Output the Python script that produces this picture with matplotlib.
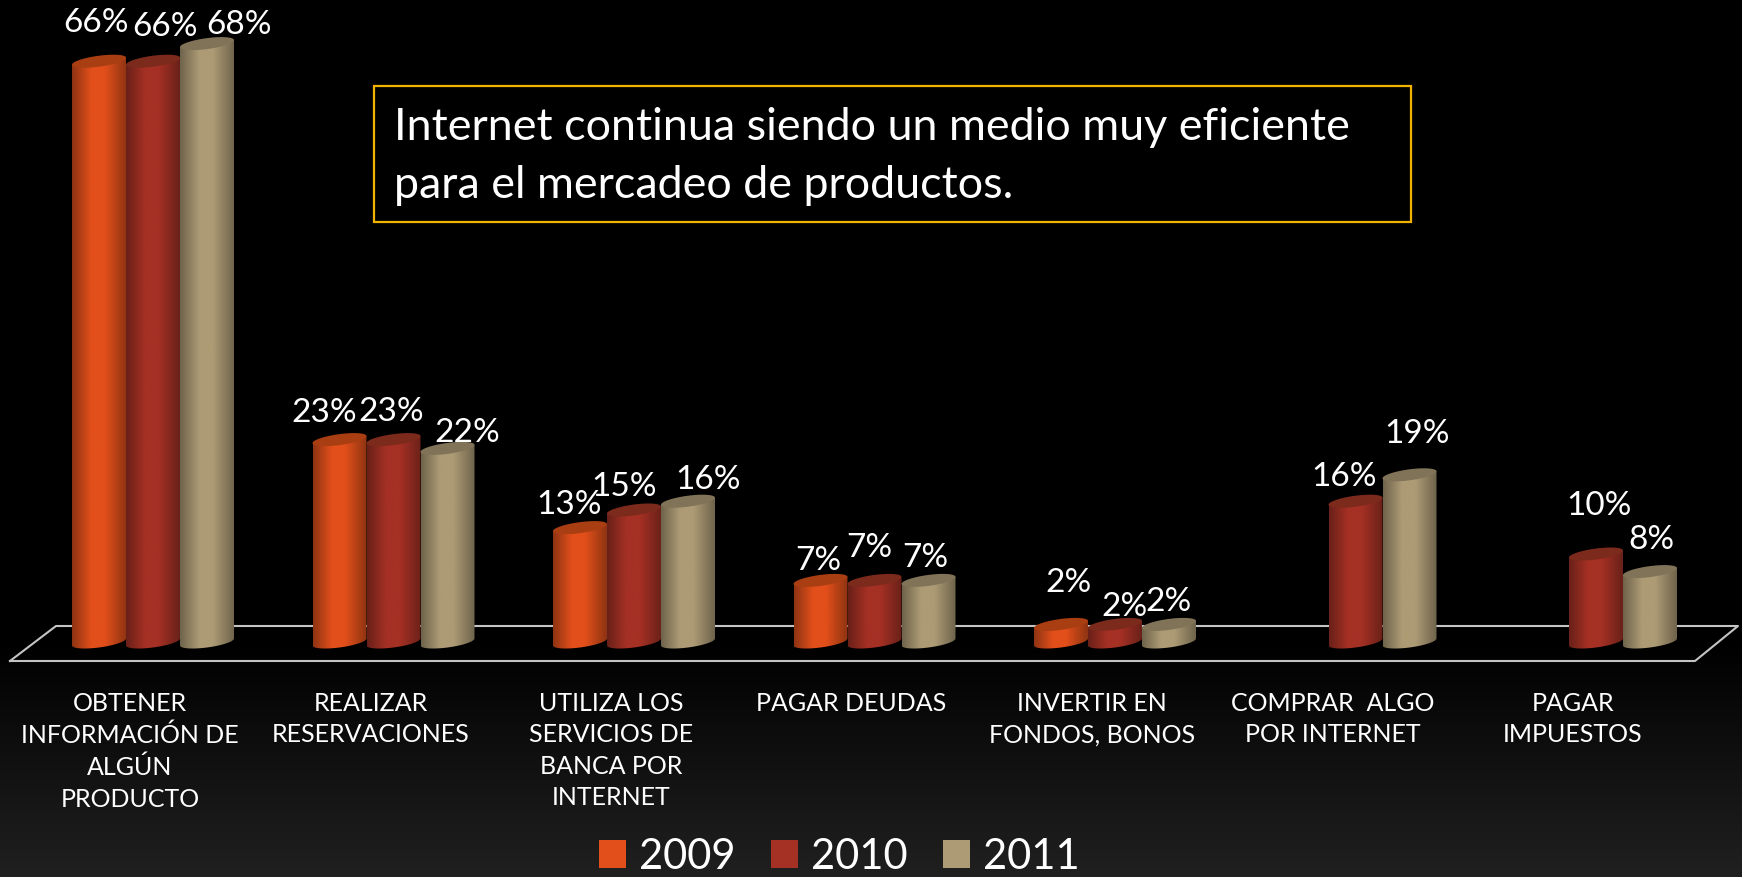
import numpy as np
import matplotlib
matplotlib.use('Agg')
import matplotlib.pyplot as plt
from matplotlib.colors import LinearSegmentedColormap
from matplotlib.patches import Patch, Polygon, Rectangle

categories = ['OBTENER\nINFORMACIÓN DE\nALGÚN\nPRODUCTO', 'REALIZAR\nRESERVACIONES',
              'UTILIZA LOS\nSERVICIOS DE\nBANCA POR\nINTERNET', 'PAGAR DEUDAS',
              'INVERTIR EN\nFONDOS, BONOS', 'COMPRAR  ALGO\nPOR INTERNET', 'PAGAR\nIMPUESTOS']
years = ['2009', '2010', '2011']
v2009 = [66, 23, 13, 7, 2, None, None]
v2010 = [66, 23, 15, 7, 2, 16, 10]
v2011 = [68, 22, 16, 7, 2, 19, 8]

# label offsets from the top of each bar (pixels, the labels were moved by hand in the original)
off2009 = [(-3, 38), (-15, 27), (-11, 23), (-2, 19), (7, 41), None, None]
off2010 = [(12, 34), (-2, 28), (-10, 23), (-5, 32), (9, 17), (-11, 24), (3, 48)]
off2011 = [(32, 19), (20, 15), (20, 21), (-3, 22), (-1, 22), (8, 41), (1, 32)]

W, H = 1742, 877
GROUP_PX = 240.5
BAR_PX = 54
Y_PX = 8.8  # pixels per percent
TILT = 3.5
ELL = 5.5

plt.rcParams['font.family'] = ['Lato', 'DejaVu Sans']

# (edge, centre, top)
colors = [('#8f3412', '#e24f1b', '#a83e12'),
          ('#6a2119', '#a53024', '#7c2a1b'),
          ('#6f644c', '#ad9b75', '#807358')]

fig = plt.figure(figsize=(W / 100, H / 100), dpi=100)

# background layer in pixel coordinates: gradient, floor, text box
bg = fig.add_axes([0, 0, 1, 1])
bg.set_xlim(0, W)
bg.set_ylim(H, 0)
bg.axis('off')
grad = np.zeros((H, 1))
grad[640:, 0] = np.linspace(0, 0.125, H - 640)
bg.imshow(grad, extent=(0, W, H, 0), cmap='gray', vmin=0, vmax=1, aspect='auto')
bg.plot([10, 56, 1738, 1695, 10], [661, 626, 626, 661, 661], color='#c4c4c4', lw=1.5)
bg.add_patch(Rectangle((374, 86), 1037, 136, fill=False, ec='#f2b200', lw=1.6))
bg.text(394, 156.5, 'Internet continua siendo un medio muy eficiente\npara el mercadeo de productos.',
        color='white', fontsize=32.3, va='center', ha='left', linespacing=1.5)

# chart layer: x is the category index, y is the percentage
bottom = 682
ax = fig.add_axes([0, (H - bottom) / H, 1, bottom / H])
ax.patch.set_alpha(0)
for s in ax.spines.values():
    s.set_visible(False)
ax.set_yticks([])
ax.set_xticks(np.arange(len(categories)) - 23 / GROUP_PX)
ax.set_xticklabels(categories, color='white', fontsize=18, linespacing=1.45, va='top')
ax.tick_params(axis='x', length=0, pad=7)


def cylinder(x, v, cols, z):
    hw = BAR_PX / 2 / GROUP_PX
    t = np.linspace(0, 2 * np.pi, 80)
    ex = np.cos(t) * hw
    # tilt: the left side sits lower than the right side
    ey = (ELL * np.sin(t) + TILT * np.cos(t)) / Y_PX
    top = np.column_stack([x + ex, v + ey])
    base = np.column_stack([x + ex, ey])
    lower = base[(t > np.pi) & (t < 2 * np.pi)]
    body = np.vstack([[x - hw, v - TILT / Y_PX], [x - hw, -TILT / Y_PX], lower,
                      [x + hw, TILT / Y_PX], [x + hw, v + TILT / Y_PX]])
    cmap = LinearSegmentedColormap.from_list('c', [(0, cols[0]), (0.35, cols[1]), (0.6, cols[1]), (1, cols[0])])
    shade = np.linspace(0, 1, 64).reshape(1, -1)
    im = ax.imshow(shade, extent=(x - hw, x + hw, -2, v + 2), cmap=cmap, aspect='auto', zorder=z)
    im.set_clip_path(Polygon(body, closed=True, transform=ax.transData))
    ax.add_patch(Polygon(top, closed=True, fc=cols[2], ec='none', zorder=z + 0.1))


series = [v2009, v2010, v2011]
offsets = [off2009, off2010, off2011]
z = 3
for i in range(len(categories)):
    for j, vals in enumerate(series):
        v = vals[i]
        if v is None:
            continue
        x = i + (j - 1) * BAR_PX / GROUP_PX
        cylinder(x, v, colors[j], z)
        z += 1
        ax.annotate('%d%%' % v, xy=(x, v), xytext=offsets[j][i], textcoords='offset pixels',
                    color='white', fontsize=24, ha='center', va='center', zorder=100,
                    annotation_clip=False)

ax.set_xlim(-153 / GROUP_PX, (W - 153) / GROUP_PX)
ax.set_ylim(-(bottom - 642) / Y_PX, 642 / Y_PX)

handles = [Patch(fc=c[1], ec='none', label=y) for c, y in zip(colors, years)]
fig.legend(handles=handles, loc='center', bbox_to_anchor=(839 / W, 1 - 857 / H), ncol=3, frameon=False,
           fontsize=30, labelcolor='white', handlelength=0.66, handleheight=0.66,
           handletextpad=0.3, columnspacing=0.85)

fig.savefig('out.png', dpi=100, facecolor='black')
